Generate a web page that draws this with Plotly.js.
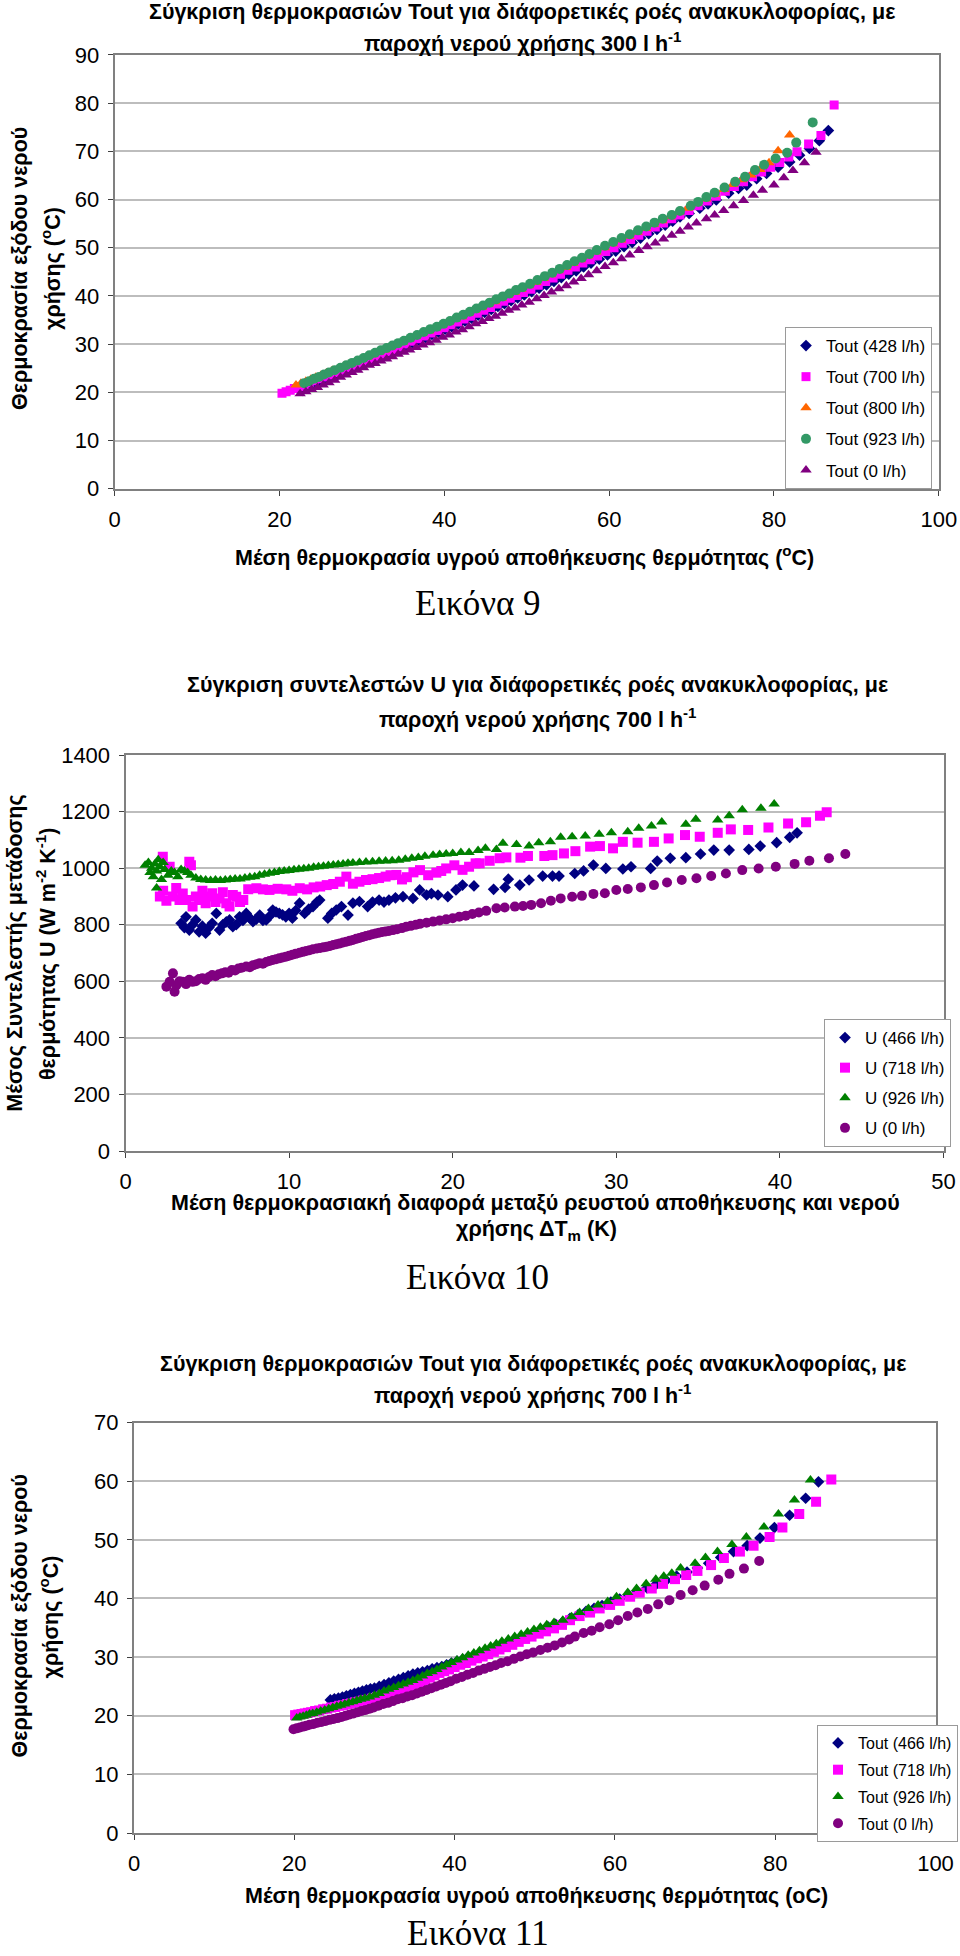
<!DOCTYPE html>
<html>
<head>
<meta charset="utf-8">
<script src="https://cdn.plot.ly/plotly-3.0.1.min.js"></script>
<style>html,body{margin:0;padding:0;background:#fff;}#chart{width:960px;height:1956px;}</style>
</head>
<body>
<div id="chart"></div>
<script>
// ---------------- Chart 1 (Εικόνα 9): Tout vs mean storage temperature, 300 l/h ----------------
const c1_names = ['Tout (428 l/h)', 'Tout (700 l/h)', 'Tout (800 l/h)', 'Tout (923 l/h)', 'Tout (0 l/h)'];
const c1_tout428 = [[22.8,20.4],[23.5,20.9],[24.2,21.5],[24.9,22.0],[25.6,22.6],[26.3,23.1],[27.0,23.6],[27.7,24.1],[28.4,24.7],[29.1,25.2],[29.8,25.8],[30.5,26.3],[31.2,26.8],[31.9,27.3],[32.6,27.8],[33.3,28.3],[34.0,28.8],[34.7,29.3],[35.4,29.8],[36.1,30.3],[36.9,30.8],[37.7,31.4],[38.5,32.0],[39.3,32.5],[40.1,33.1],[40.9,33.6],[41.7,34.2],[42.5,34.8],[43.3,35.4],[44.1,36.0],[44.9,36.6],[45.7,37.2],[46.5,37.8],[47.3,38.4],[48.1,39.0],[48.9,39.6],[49.7,40.2],[50.6,40.9],[51.5,41.6],[52.4,42.3],[53.3,43.0],[54.2,43.8],[55.1,44.5],[56.0,45.2],[56.9,46.0],[57.8,46.8],[58.8,47.6],[59.8,48.5],[60.8,49.3],[61.8,50.2],[62.8,51.1],[63.8,52.0],[64.8,52.9],[65.8,53.8],[66.8,54.7],[67.7,55.5],[68.6,56.4],[69.7,57.1],[71.0,58.2],[72.0,59.1],[73.0,59.9],[74.5,61.3],[75.7,62.3],[76.7,63.0],[77.9,64.3],[79.1,65.4],[80.5,66.7],[81.9,67.8],[83.1,69.2],[84.3,70.6],[85.5,72.2],[86.6,74.3]];
const c1_tout700 = [[20.3,19.8],[20.8,20.1],[21.3,20.4],[21.8,20.8],[22.4,21.2],[23.0,21.6],[23.6,22.0],[24.2,22.4],[24.8,22.8],[25.4,23.2],[26.0,23.6],[26.7,24.1],[27.4,24.6],[28.1,25.1],[28.8,25.5],[29.5,26.0],[30.2,26.4],[30.9,26.9],[31.6,27.4],[32.3,27.9],[33.0,28.4],[33.7,28.9],[34.4,29.4],[35.2,30.0],[36.0,30.6],[36.8,31.1],[37.6,31.7],[38.4,32.3],[39.2,32.8],[40.0,33.4],[40.8,34.0],[41.6,34.6],[42.4,35.2],[43.2,35.8],[44.0,36.4],[44.8,37.0],[45.6,37.6],[46.4,38.3],[47.2,38.9],[48.0,39.5],[48.8,40.1],[49.6,40.7],[50.5,41.4],[51.4,42.2],[52.3,43.0],[53.2,43.7],[54.1,44.5],[55.0,45.3],[55.9,46.0],[56.8,46.8],[57.7,47.5],[58.6,48.3],[59.6,49.2],[60.6,50.0],[61.6,50.9],[62.6,51.7],[63.6,52.6],[64.6,53.4],[65.6,54.3],[66.6,55.1],[67.6,56.0],[68.6,56.8],[69.7,57.7],[70.8,58.7],[71.9,59.7],[73.0,60.7],[74.1,61.7],[75.2,62.7],[76.3,63.7],[77.4,64.7],[78.5,65.7],[79.6,66.7],[80.7,67.7],[81.8,68.8],[82.8,69.9],[84.2,71.5],[85.7,73.3],[87.3,79.6]];
const c1_tout800 = [[22.0,21.5],[22.6,21.9],[23.2,22.3],[23.8,22.7],[24.4,23.1],[25.0,23.5],[25.7,24.0],[26.4,24.5],[27.1,24.9],[27.8,25.4],[28.5,25.9],[29.2,26.4],[29.9,26.8],[30.6,27.3],[31.3,27.8],[32.0,28.3],[32.7,28.8],[33.4,29.3],[34.1,29.8],[34.9,30.4],[35.7,31.0],[36.5,31.6],[37.3,32.2],[38.1,32.7],[38.9,33.3],[39.7,33.9],[40.5,34.5],[41.3,35.1],[42.1,35.7],[42.9,36.4],[43.7,37.0],[44.5,37.6],[45.3,38.2],[46.1,38.8],[46.9,39.5],[47.7,40.1],[48.5,40.7],[49.3,41.4],[50.2,42.1],[51.1,42.8],[52.0,43.6],[52.9,44.4],[53.8,45.2],[54.7,45.9],[55.6,46.7],[56.5,47.5],[57.4,48.3],[58.4,49.1],[59.4,50.0],[60.4,50.8],[61.4,51.6],[62.4,52.4],[63.4,53.2],[64.4,54.0],[65.4,54.8],[66.4,55.6],[67.4,56.4],[68.4,57.3],[69.5,58.2],[70.6,59.2],[71.7,60.1],[72.8,61.1],[73.9,62.1],[75.0,63.1],[76.1,64.1],[77.2,65.1],[78.3,66.2],[79.4,67.6],[80.5,70.1],[81.9,73.4]];
const c1_tout923 = [[23.0,21.9],[23.6,22.3],[24.2,22.8],[24.8,23.2],[25.4,23.7],[26.0,24.1],[26.7,24.6],[27.4,25.1],[28.1,25.6],[28.8,26.1],[29.5,26.6],[30.2,27.1],[30.9,27.7],[31.6,28.2],[32.3,28.7],[33.0,29.2],[33.7,29.7],[34.4,30.2],[35.1,30.7],[35.9,31.3],[36.7,31.9],[37.5,32.5],[38.3,33.1],[39.1,33.6],[39.9,34.2],[40.7,34.8],[41.5,35.5],[42.3,36.1],[43.1,36.7],[43.9,37.4],[44.7,38.0],[45.5,38.6],[46.3,39.3],[47.1,39.9],[47.9,40.5],[48.7,41.2],[49.5,41.8],[50.4,42.5],[51.3,43.3],[52.2,44.1],[53.1,44.8],[54.0,45.6],[54.9,46.4],[55.8,47.2],[56.7,47.9],[57.6,48.7],[58.5,49.5],[59.5,50.4],[60.5,51.2],[61.5,52.0],[62.5,52.8],[63.5,53.6],[64.5,54.4],[65.5,55.2],[66.5,56.0],[67.6,56.8],[68.6,57.6],[69.9,58.7],[70.8,59.5],[71.8,60.5],[72.8,61.4],[74.0,62.5],[75.3,63.7],[76.5,64.7],[77.7,66.1],[78.8,67.2],[80.2,68.5],[81.6,69.7],[82.7,71.8],[84.7,76.0]];
const c1_tout0 = [[22.5,19.7],[23.2,20.1],[23.9,20.6],[24.6,21.0],[25.3,21.5],[26.0,22.0],[26.7,22.5],[27.4,23.1],[28.1,23.6],[28.8,24.1],[29.5,24.6],[30.2,25.1],[30.9,25.6],[31.6,26.0],[32.3,26.5],[33.0,26.9],[33.7,27.4],[34.4,27.9],[35.1,28.3],[35.8,28.8],[36.6,29.3],[37.4,29.8],[38.2,30.3],[39.0,30.8],[39.8,31.4],[40.6,31.9],[41.4,32.5],[42.2,33.0],[43.0,33.6],[43.8,34.2],[44.6,34.7],[45.4,35.3],[46.2,35.8],[47.0,36.4],[47.8,37.0],[48.6,37.5],[49.4,38.1],[50.3,38.7],[51.2,39.4],[52.1,40.1],[53.0,40.8],[53.9,41.5],[54.8,42.1],[55.7,42.9],[56.6,43.6],[57.5,44.4],[58.5,45.2],[59.5,46.1],[60.5,46.9],[61.5,47.7],[62.5,48.5],[63.6,49.4],[64.6,50.2],[65.6,51.0],[66.6,51.8],[67.6,52.6],[68.6,53.4],[69.6,54.3],[70.6,55.1],[71.8,56.0],[72.8,56.8],[73.9,57.7],[75.1,58.7],[76.3,59.8],[77.5,60.9],[78.6,61.9],[80.0,63.0],[81.2,64.5],[82.3,66.0],[83.7,67.6],[85.1,69.8]];

// ---------------- Chart 2 (Εικόνα 10): U vs ΔTm, 700 l/h ----------------
const c2_names = ['U (466 l/h)', 'U (718 l/h)', 'U (926 l/h)', 'U (0 l/h)'];
const c2_u466 = [[3.4,805],[3.6,790],[3.7,828],[3.9,781],[4.1,800],[4.3,817],[4.5,775],[4.7,795],[4.9,770],[5.1,790],[5.3,805],[5.55,840],[5.75,781],[5.95,800],[6.16,810],[6.36,817],[6.56,793],[6.77,800],[6.97,828],[7.18,815],[7.38,840],[7.58,825],[7.79,811],[8.0,820],[8.2,834],[8.4,815],[8.6,817],[8.8,830],[9.0,852],[9.2,845],[9.4,840],[9.6,835],[9.8,828],[10.0,840],[10.2,823],[10.4,850],[10.64,876],[10.95,840],[11.2,855],[11.46,864],[11.7,880],[11.87,887],[12.37,823],[12.6,840],[12.88,852],[13.2,864],[13.6,834],[13.9,876],[14.3,882],[14.8,864],[15.1,880],[15.5,887],[15.8,880],[16.1,887],[16.5,895],[16.96,899],[17.57,893],[17.98,923],[18.4,905],[18.7,910],[19.1,905],[19.7,899],[20.2,923],[20.6,940],[21.3,937],[22.5,925],[23.2,932],[23.4,961],[24.1,940],[24.67,958],[25.5,972],[26.1,972],[26.5,972],[27.46,981],[28.0,990],[28.6,1011],[29.36,999],[30.4,997],[30.9,1005],[32.1,999],[32.5,1025],[33.3,1035],[34.25,1037],[35.15,1050],[35.96,1064],[36.9,1064],[38.1,1066],[38.8,1078],[39.8,1090],[40.6,1109],[41.05,1125]];
const c2_u718 = [[2.28,1040],[2.1,900],[2.3,920],[2.5,885],[2.7,1005],[2.9,900],[3.1,930],[3.3,887],[3.5,910],[3.7,887],[3.9,1023],[4.0,1010],[4.1,864],[4.3,900],[4.5,887],[4.7,920],[4.9,876],[5.1,900],[5.3,911],[5.5,880],[5.75,893],[5.95,915],[6.16,876],[6.36,864],[6.56,905],[6.77,899],[7.0,880],[7.2,887],[7.5,925],[8.0,929],[8.4,925],[8.8,923],[9.3,927],[9.83,925],[10.2,920],[10.65,929],[11.1,925],[11.5,932],[11.9,935],[12.3,940],[12.7,944],[13.1,952],[13.5,970],[13.9,945],[14.3,952],[14.7,958],[15.1,961],[15.5,965],[15.9,970],[16.2,975],[16.56,976],[16.9,960],[17.2,968],[17.6,985],[18.0,993],[18.5,975],[19.0,984],[19.3,990],[19.6,999],[20.1,1010],[20.6,994],[21.0,1005],[21.4,1017],[21.65,1017],[22.26,1026],[22.87,1035],[23.28,1038],[24.14,1037],[24.6,1043],[25.6,1043],[26.1,1046],[26.8,1052],[27.5,1060],[28.4,1076],[29.0,1078],[29.8,1070],[30.4,1093],[31.3,1090],[32.3,1093],[33.2,1105],[34.2,1117],[35.1,1111],[36.2,1125],[37.0,1137],[38.06,1135],[39.3,1144],[40.5,1158],[41.6,1162],[42.45,1185],[42.86,1198]];
const c2_u926 = [[1.2,1010],[1.4,1020],[1.5,985],[1.6,1000],[1.7,970],[1.8,1015],[1.9,990],[2.0,1030],[2.1,1005],[2.2,960],[1.9,930],[2.3,1020],[2.4,995],[2.6,975],[2.8,990],[3.0,985],[3.2,970],[3.4,995],[3.6,990],[3.8,985],[4.0,975],[4.3,965],[4.6,960],[4.9,958],[5.2,956],[5.5,958],[5.8,956],[6.1,958],[6.4,960],[6.7,962],[7.0,962],[7.3,965],[7.6,968],[7.9,970],[8.2,975],[8.5,978],[8.8,982],[9.1,985],[9.4,988],[9.7,990],[10.0,992],[10.3,994],[10.6,996],[10.9,998],[11.2,1000],[11.5,1003],[11.8,1005],[12.1,1007],[12.4,1009],[12.7,1011],[13.0,1013],[13.3,1015],[13.6,1017],[13.9,1018],[14.3,1020],[14.7,1022],[15.1,1023],[15.5,1024],[15.9,1025],[16.3,1026],[16.7,1028],[17.1,1031],[17.5,1035],[17.9,1038],[18.3,1042],[18.8,1046],[19.2,1048],[19.6,1050],[20.0,1052],[20.5,1055],[21.0,1055],[21.55,1062],[22.0,1070],[22.67,1066],[23.07,1088],[23.9,1084],[24.67,1078],[25.26,1090],[25.97,1093],[26.6,1109],[27.3,1111],[28.1,1114],[28.95,1120],[29.7,1125],[30.7,1129],[31.37,1141],[32.15,1149],[32.78,1163],[34.25,1155],[34.86,1173],[36.2,1170],[36.9,1185],[37.7,1206],[38.84,1212],[39.65,1227]];
const c2_u0 = [[2.5,581],[2.7,598],[2.9,628],[3.0,563],[3.1,585],[3.3,600],[3.5,598],[3.7,590],[3.9,605],[4.1,598],[4.3,600],[4.5,608],[4.7,611],[4.9,605],[5.1,615],[5.3,622],[5.5,618],[5.7,625],[5.9,628],[6.1,632],[6.3,630],[6.5,640],[6.7,638],[6.9,645],[7.1,648],[7.38,652],[7.6,650],[7.8,657],[8.0,660],[8.2,664],[8.4,662],[8.6,668],[8.8,672],[9.0,675],[9.2,678],[9.4,681],[9.6,684],[9.8,687],[10.0,690],[10.2,694],[10.4,697],[10.64,701],[10.85,704],[11.05,707],[11.25,710],[11.46,713],[11.7,716],[11.9,718],[12.1,720],[12.3,722],[12.5,725],[12.7,728],[12.9,731],[13.1,734],[13.3,737],[13.5,740],[13.7,743],[13.9,746],[14.1,750],[14.3,753],[14.5,757],[14.7,760],[14.9,763],[15.1,766],[15.3,769],[15.5,772],[15.7,774],[15.9,776],[16.1,778],[16.35,781],[16.6,784],[16.9,788],[17.16,793],[17.45,796],[17.75,800],[18.0,803],[18.4,807],[18.8,811],[19.2,815],[19.6,819],[20.0,823],[20.4,828],[20.8,832],[21.2,838],[21.6,843],[22.05,849],[22.67,858],[23.18,861],[23.8,864],[24.3,866],[24.8,870],[25.4,876],[26.0,885],[26.6,893],[27.3,899],[27.9,902],[28.6,909],[29.3,911],[30.0,923],[30.7,926],[31.5,932],[32.3,940],[33.1,949],[34.0,958],[34.9,964],[35.8,972],[36.7,981],[37.7,993],[38.7,999],[39.75,1005],[40.9,1015],[41.8,1026],[43.0,1035],[44.0,1050]];

// ---------------- Chart 3 (Εικόνα 11): Tout vs mean storage temperature, 700 l/h ----------------
const c3_names = ['Tout (466 l/h)', 'Tout (718 l/h)', 'Tout (926 l/h)', 'Tout (0 l/h)'];
const c3_tout466 = [[24.5,22.7],[25.0,22.9],[25.5,23.0],[26.0,23.2],[26.5,23.4],[27.0,23.6],[27.5,23.8],[28.0,24.0],[28.5,24.2],[29.0,24.4],[29.5,24.6],[30.0,24.7],[30.6,25.0],[31.2,25.3],[31.8,25.6],[32.4,25.9],[33.0,26.2],[33.6,26.5],[34.2,26.8],[34.8,27.1],[35.4,27.3],[36.0,27.5],[36.6,27.7],[37.2,28.0],[37.8,28.2],[38.4,28.4],[39.0,28.7],[39.6,29.0],[40.3,29.3],[41.0,29.6],[41.7,30.0],[42.4,30.3],[43.1,30.6],[43.8,31.0],[44.5,31.4],[45.2,31.7],[45.9,32.1],[46.7,32.5],[47.5,32.9],[48.3,33.3],[49.1,33.7],[49.9,34.2],[50.8,34.7],[51.7,35.1],[52.6,35.6],[53.5,36.0],[54.4,36.6],[55.4,37.2],[56.4,37.8],[57.4,38.3],[58.4,38.8],[59.5,39.4],[60.6,39.9],[61.7,40.6],[62.8,41.2],[64.0,41.8],[65.2,42.5],[66.4,43.1],[67.7,43.8],[69.0,44.5],[70.3,45.2],[71.7,46.0],[73.2,47.0],[74.8,48.0],[76.5,49.0],[78.1,50.3],[79.9,52.1],[81.8,54.2],[83.8,57.1],[85.4,59.9]];
const c3_tout718 = [[20.1,20.1],[20.5,20.2],[20.9,20.3],[21.3,20.4],[21.7,20.5],[22.1,20.6],[22.6,20.8],[23.1,20.9],[23.6,21.1],[24.1,21.2],[24.6,21.4],[25.1,21.5],[25.6,21.7],[26.1,21.8],[26.6,22.0],[27.1,22.1],[27.6,22.3],[28.1,22.4],[28.6,22.6],[29.1,22.7],[29.7,22.9],[30.3,23.1],[30.9,23.4],[31.5,23.6],[32.1,23.9],[32.7,24.2],[33.3,24.4],[33.9,24.7],[34.5,25.0],[35.1,25.3],[35.7,25.6],[36.3,26.1],[36.9,26.5],[37.5,26.9],[38.1,27.3],[38.7,27.6],[39.3,27.9],[40.0,28.3],[40.7,28.7],[41.4,29.0],[42.1,29.4],[42.8,29.8],[43.5,30.1],[44.2,30.5],[44.9,30.9],[45.6,31.3],[46.4,31.7],[47.2,32.1],[48.0,32.6],[48.8,33.1],[49.6,33.5],[50.5,34.0],[51.4,34.4],[52.4,34.9],[53.4,35.5],[54.4,36.3],[55.6,37.0],[56.9,37.6],[58.1,38.3],[59.4,38.9],[60.6,39.6],[61.9,40.3],[63.1,41.0],[64.6,41.7],[66.0,42.5],[67.5,43.3],[68.9,44.0],[70.3,44.7],[72.0,45.7],[73.6,46.9],[75.6,48.0],[77.3,49.0],[79.3,50.5],[80.9,52.1],[83.0,54.4],[85.1,56.5],[87.0,60.3]];
const c3_tout926 = [[20.3,19.6],[20.7,19.8],[21.1,19.9],[21.5,20.1],[21.9,20.3],[22.3,20.4],[22.8,20.6],[23.3,20.8],[23.8,21.0],[24.3,21.2],[24.8,21.4],[25.3,21.6],[25.8,21.8],[26.3,22.0],[26.8,22.2],[27.3,22.4],[27.8,22.6],[28.3,22.8],[28.8,23.0],[29.4,23.2],[30.0,23.5],[30.6,23.8],[31.2,24.2],[31.8,24.5],[32.4,24.8],[33.0,25.1],[33.6,25.4],[34.2,25.7],[34.8,26.0],[35.4,26.4],[36.0,26.8],[36.6,27.2],[37.2,27.5],[37.8,27.9],[38.4,28.3],[39.0,28.7],[39.6,29.1],[40.3,29.5],[41.0,29.9],[41.7,30.3],[42.4,30.7],[43.1,31.1],[43.8,31.5],[44.5,31.9],[45.2,32.3],[45.9,32.7],[46.7,33.1],[47.5,33.5],[48.3,33.9],[49.1,34.3],[49.9,34.7],[50.7,35.1],[51.5,35.5],[52.4,35.9],[53.5,36.3],[54.6,36.9],[55.6,37.6],[56.7,38.3],[57.9,38.9],[59.1,39.5],[60.2,40.3],[61.6,41.0],[62.7,41.7],[63.9,42.5],[65.1,43.3],[66.1,43.8],[67.1,44.3],[68.2,45.2],[70.0,46.0],[71.3,47.0],[72.8,48.0],[74.6,49.2],[76.4,50.5],[78.6,52.2],[80.4,54.4],[82.4,56.8],[84.4,60.2]];
const c3_tout0 = [[19.9,17.7],[20.3,17.85],[20.7,18.0],[21.1,18.15],[21.5,18.3],[21.9,18.45],[22.4,18.6],[22.9,18.8],[23.4,18.95],[23.9,19.1],[24.4,19.3],[24.9,19.45],[25.4,19.6],[25.9,19.8],[26.4,20.0],[26.9,20.2],[27.4,20.4],[27.9,20.6],[28.4,20.8],[28.9,21.0],[29.4,21.2],[29.9,21.4],[30.5,21.7],[31.1,22.0],[31.7,22.2],[32.3,22.5],[32.9,22.8],[33.5,23.0],[34.1,23.3],[34.7,23.5],[35.3,23.8],[35.9,24.1],[36.5,24.4],[37.1,24.7],[37.7,25.0],[38.3,25.3],[38.9,25.6],[39.5,25.9],[40.2,26.3],[40.9,26.6],[41.6,27.0],[42.3,27.3],[43.0,27.7],[43.7,28.0],[44.4,28.3],[45.1,28.6],[45.8,29.0],[46.6,29.3],[47.4,29.7],[48.2,30.1],[49.0,30.5],[49.8,30.8],[50.7,31.2],[51.6,31.6],[52.5,32.0],[53.4,32.5],[54.3,33.0],[55.0,33.5],[56.1,34.1],[57.1,34.5],[58.1,35.1],[59.3,35.6],[60.4,36.3],[61.6,37.0],[62.8,37.6],[64.1,38.2],[65.4,39.0],[66.8,39.7],[68.2,40.6],[69.7,41.4],[71.2,42.2],[72.9,43.2],[74.3,44.2],[76.1,45.1],[78.0,46.4]];

// ---------------- Texts ----------------
const c1_title = ['Σύγκριση θερμοκρασιών Tout για διάφορετικές ροές ανακυκλοφορίας, με', 'παροχή νερού χρήσης 300 l h<sup>-1</sup>'];
const c1_xtitle = 'Μέση θερμοκρασία υγρού αποθήκευσης θερμότητας (<sup>o</sup>C)';
const c1_ytitle = ['Θερμοκρασία εξόδου νερού', 'χρήσης (<sup>o</sup>C)'];
const c2_title = ['Σύγκριση συντελεστών U για διάφορετικές ροές ανακυκλοφορίας, με', 'παροχή νερού χρήσης 700 l h<sup>-1</sup>'];
const c2_xtitle = ['Μέση θερμοκρασιακή διαφορά μεταξύ ρευστού αποθήκευσης και νερού', 'χρήσης ΔT<sub>m</sub> (K)'];
const c2_ytitle = ['Μέσος Συντελεστής μετάδοσης', 'θερμότητας U (W m<sup>-2</sup> K<sup>-1</sup>)'];
const c3_title = ['Σύγκριση θερμοκρασιών Tout για διάφορετικές ροές ανακυκλοφορίας, με', 'παροχή νερού χρήσης 700 l h<sup>-1</sup>'];
const c3_xtitle = 'Μέση θερμοκρασία υγρού αποθήκευσης θερμότητας (oC)';
const c3_ytitle = ['Θερμοκρασία εξόδου νερού', 'χρήσης (<sup>o</sup>C)'];
const captions = ['Εικόνα 9', 'Εικόνα 10', 'Εικόνα 11'];

// ---------------- Styling ----------------
const SANS = 'Liberation Sans, Arial, sans-serif';
const SERIF = 'Liberation Serif, Times New Roman, serif';
const W = 960, H = 1956;
const px = v => v / W;
const py = v => 1 - v / H;

function trace(pairs, name, symbol, color, size, xa, ya, leg, grp) {
  return {
    type: 'scatter', mode: 'markers', name: name,
    x: pairs.map(p => p[0]), y: pairs.map(p => p[1]),
    xaxis: xa, yaxis: ya, legend: leg, legendgroup: grp,
    marker: {symbol: symbol, color: color, size: size, line: {width: 0}},
    hoverinfo: 'x+y+name'
  };
}

const NAVY = '#000080', MAG = '#FF00FF', ORANGE = '#FF6600', SEA = '#339966', PURPLE = '#800080', GREEN = '#008000';

const data = [
  trace(c1_tout428, c1_names[0], 'diamond', NAVY, 9, 'x', 'y', 'legend', 'a1'),
  trace(c1_tout700, c1_names[1], 'square', MAG, 9, 'x', 'y', 'legend', 'a2'),
  trace(c1_tout800, c1_names[2], 'triangle-up', ORANGE, 10, 'x', 'y', 'legend', 'a3'),
  trace(c1_tout923, c1_names[3], 'circle', SEA, 10, 'x', 'y', 'legend', 'a4'),
  trace(c1_tout0, c1_names[4], 'triangle-up', PURPLE, 10, 'x', 'y', 'legend', 'a5'),
  trace(c2_u466, c2_names[0], 'diamond', NAVY, 9, 'x2', 'y2', 'legend2', 'b1'),
  trace(c2_u718, c2_names[1], 'square', MAG, 10, 'x2', 'y2', 'legend2', 'b2'),
  trace(c2_u926, c2_names[2], 'triangle-up', GREEN, 10, 'x2', 'y2', 'legend2', 'b3'),
  trace(c2_u0, c2_names[3], 'circle', PURPLE, 10, 'x2', 'y2', 'legend2', 'b4'),
  trace(c3_tout466, c3_names[0], 'diamond', NAVY, 9, 'x3', 'y3', 'legend3', 'c1'),
  trace(c3_tout718, c3_names[1], 'square', MAG, 10, 'x3', 'y3', 'legend3', 'c2'),
  trace(c3_tout926, c3_names[2], 'triangle-up', GREEN, 10, 'x3', 'y3', 'legend3', 'c3'),
  trace(c3_tout0, c3_names[3], 'circle', PURPLE, 10, 'x3', 'y3', 'legend3', 'c4')
];

function xaxis(dom, range, dtick, anchor) {
  return {domain: dom, anchor: anchor, range: range, dtick: dtick, tick0: 0,
    ticks: 'outside', ticklen: 5, tickwidth: 1, tickcolor: '#404040',
    showline: true, mirror: true, linecolor: '#808080', linewidth: 2,
    showgrid: false, zeroline: false, ticklabelstandoff: 5,
    tickfont: {family: SANS, size: 22, color: '#000'}, fixedrange: true};
}
function yaxis(dom, range, dtick, anchor) {
  return {domain: dom, anchor: anchor, range: range, dtick: dtick, tick0: 0,
    ticks: 'outside', ticklen: 5, tickwidth: 1, tickcolor: '#404040',
    showline: true, mirror: true, linecolor: '#808080', linewidth: 2,
    showgrid: true, gridcolor: '#bdbdbd', gridwidth: 1.5, zeroline: false,
    ticklabelstandoff: 4,
    tickfont: {family: SANS, size: 22, color: '#000'}, fixedrange: true};
}
function legendBox(x, y, size, gap) {
  return {x: x, y: y, xanchor: 'left', yanchor: 'top', xref: 'paper', yref: 'paper',
    bgcolor: '#ffffff', bordercolor: '#9a9a9a', borderwidth: 1,
    font: {family: SANS, size: size, color: '#000'},
    traceorder: 'grouped', tracegroupgap: gap, itemwidth: 30, itemclick: false, itemdoubleclick: false};
}
function ann(text, x, y, opts) {
  const o = Object.assign({size: 21.5, bold: true, family: SANS, angle: 0}, opts || {});
  return {text: o.bold ? '<b>' + text + '</b>' : text, x: px(x), y: py(y), xref: 'paper', yref: 'paper',
    xanchor: 'center', yanchor: 'middle', showarrow: false, textangle: o.angle,
    font: {family: o.family, size: o.size, color: '#000'}};
}
const yt = {angle: -90, size: 21.5};
const cap = {family: SERIF, size: 35, bold: false};

const layout = {
  width: W, height: H, margin: {l: 0, r: 0, t: 0, b: 0},
  paper_bgcolor: '#fff', plot_bgcolor: '#fff', showlegend: true,
  xaxis: xaxis([px(114.7), px(938.8)], [0, 100], 20, 'y'),
  yaxis: yaxis([py(488.7), py(54.9)], [0, 90], 10, 'x'),
  xaxis2: xaxis([px(125.5), px(943.5)], [0, 50], 10, 'y2'),
  yaxis2: yaxis([py(1151), py(755)], [0, 1400], 200, 'x2'),
  xaxis3: xaxis([px(134), px(935.5)], [0, 100], 20, 'y3'),
  yaxis3: yaxis([py(1833), py(1422.6)], [0, 70], 10, 'x3'),
  legend: legendBox(px(785), py(327), 17, 6),
  legend2: legendBox(px(824), py(1019), 17, 5),
  legend3: legendBox(px(817), py(1725), 16, 3),
  annotations: [
    ann(c1_title[0], 522, 12.5), ann(c1_title[1], 522, 42),
    ann(c1_xtitle, 524.5, 555.5),
    ann(c1_ytitle[0], 20, 269, yt), ann(c1_ytitle[1], 51, 269, yt),
    ann(captions[0], 477.6, 603, cap),

    ann(c2_title[0], 537.5, 685), ann(c2_title[1], 537.7, 718),
    ann(c2_xtitle[0], 535, 1203), ann(c2_xtitle[1], 536, 1230.5),
    ann(c2_ytitle[0], 15.3, 953.4, yt), ann(c2_ytitle[1], 46, 954, yt),
    ann(captions[1], 477.6, 1277.5, cap),

    ann(c3_title[0], 533.4, 1364), ann(c3_title[1], 532.8, 1394),
    ann(c3_xtitle, 536.5, 1896),
    ann(c3_ytitle[0], 20, 1616.4, yt), ann(c3_ytitle[1], 49, 1617.4, yt),
    ann(captions[2], 477.6, 1933, cap)
  ]
};

Plotly.newPlot('chart', data, layout, {displayModeBar: false, responsive: false});
</script>
</body>
</html>
